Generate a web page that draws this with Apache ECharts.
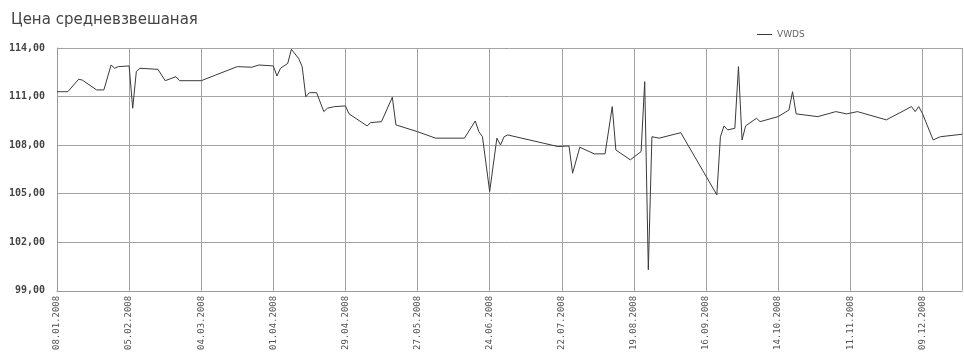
<!DOCTYPE html>
<html>
<head>
<meta charset="utf-8">
<script src="https://cdn.jsdelivr.net/npm/echarts@6/dist/echarts.min.js"></script>
<style>html,body{margin:0;padding:0;background:#fff}#c{width:964px;height:353px}</style>
</head>
<body>
<div id="c"></div>
<script>
// trading-day index (x) of each vertex of the line
const dayIndex = [0,3,6,7,11,13,15,16,17,20,21,22,23,28,30,33,34,40,44,50,54,56,60,61,62,64,65,67,68,69,70,72,74,75,77,80,81,86,87,90,93,94,100,105,113,116,117,118,120,122,123,124,125,139,142,143,145,149,152,154,155,159,162,163,164,165,167,173,183,184,185,186,188,189,190,191,194,195,200,203,204,205,211,216,219,222,230,237,238,239,240,243,245,251];
// weighted average price at each vertex
const vwdsValues = [111.30,111.30,112.07,112.02,111.41,111.41,112.95,112.75,112.85,112.89,110.28,112.54,112.75,112.68,111.98,112.23,111.98,111.98,112.33,112.85,112.81,112.95,112.89,112.27,112.75,113.05,113.92,113.36,112.85,110.99,111.24,111.24,110.07,110.28,110.38,110.42,109.93,109.19,109.39,109.45,110.96,109.25,108.83,108.43,108.43,109.49,108.83,108.52,105.13,108.43,108.01,108.52,108.63,107.91,107.95,106.27,107.87,107.46,107.46,110.38,107.70,107.09,107.60,111.92,100.30,108.52,108.43,108.77,104.93,108.52,109.19,108.94,109.04,112.85,108.32,109.19,109.66,109.45,109.76,110.17,111.30,109.93,109.76,110.07,109.93,110.07,109.56,110.38,110.07,110.38,109.97,108.32,108.52,108.67];
// date labels, one every 20 trading days
const tickLabels = ['08.01.2008','05.02.2008','04.03.2008','01.04.2008','29.04.2008','27.05.2008','24.06.2008','22.07.2008','19.08.2008','16.09.2008','14.10.2008','11.11.2008','09.12.2008'];
const seriesName = 'VWDS';
const titleText = 'Цена средневзвешаная';

const chart = echarts.init(document.getElementById('c'), null, {renderer: 'canvas'});
chart.setOption({
  animation: false,
  backgroundColor: '#fff',
  title: {
    text: titleText, left: 6, top: 8,
    textStyle: {fontFamily: 'DejaVu Sans', fontSize: 15, fontWeight: 'normal', color: '#444'}
  },
  legend: {
    data: [seriesName], left: 752, top: 25,
    icon: 'rect', itemWidth: 15, itemHeight: 1, itemGap: 4,
    textStyle: {fontFamily: 'DejaVu Sans', fontSize: 9, color: '#666'}
  },
  grid: {left: 57, right: 2, top: 48, bottom: 62, containLabel: false},
  xAxis: {
    type: 'value', min: 0, max: 251, interval: 20,
    axisLine: {show: true, lineStyle: {color: '#999', width: 1}},
    axisTick: {show: false},
    splitLine: {show: true, lineStyle: {color: '#a3a3a3', width: 1}},
    axisLabel: {
      rotate: 90, margin: 5, showMaxLabel: false,
      fontFamily: 'DejaVu Sans Mono', fontSize: 9, color: '#555',
      formatter: v => (v % 20 === 0 && tickLabels[v / 20]) ? tickLabels[v / 20] : ''
    }
  },
  yAxis: {
    type: 'value', min: 99, max: 114, interval: 3,
    axisLine: {show: true, lineStyle: {color: '#999', width: 1}},
    axisTick: {show: false},
    splitLine: {show: true, lineStyle: {color: '#a3a3a3', width: 1}},
    axisLabel: {
      margin: 12, fontFamily: 'DejaVu Sans Mono', fontSize: 10, fontWeight: 'bold', color: '#444',
      formatter: v => v.toFixed(2).replace('.', ',')
    }
  },
  series: [{
    name: seriesName, type: 'line',
    data: dayIndex.map((d, i) => [d, vwdsValues[i]]),
    showSymbol: false, symbol: 'none',
    lineStyle: {color: '#3a3a3a', width: 1},
    itemStyle: {color: '#3a3a3a'}
  }]
});
</script>
</body>
</html>
